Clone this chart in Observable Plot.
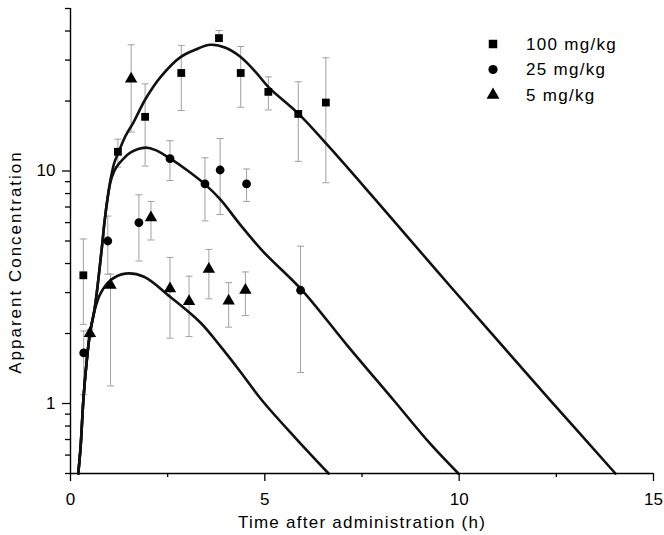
<!DOCTYPE html>
<html>
<head>
<meta charset="utf-8">
<script src="https://cdn.jsdelivr.net/npm/d3@7"></script>
<script src="https://cdn.jsdelivr.net/npm/@observablehq/plot@0.6"></script>
<style>
  body { margin: 0; background: #fff; }
  #wrap { position: relative; width: 664px; height: 535px; font-family: "Liberation Sans", Arial, Helvetica, sans-serif; }
  #legend { position: absolute; left: 0; top: 0; pointer-events: none; }
</style>
</head>
<body>
<div id="wrap"></div>
<script>
// ---------- data ----------
const seriesNames = ["100 mg/kg", "25 mg/kg", "5 mg/kg"];
const seriesSymbols = ["square", "circle", "triangle"];

// observed points (time h, value, error low, error high)
const t100  = [0.33, 1.22, 1.92, 2.85, 3.82, 4.38, 5.09, 5.86, 6.57];
const v100  = [3.56, 12.1, 17.1, 26.4, 37.3, 26.4, 21.9, 17.6, 19.7];
const lo100 = [2.19, 10.4, 10.5, 18.2, 36.0, 18.8, 18.3, 11.0, 8.9];
const hi100 = [5.1, 13.7, 23.7, 34.7, 40.2, 34.3, 25.4, 24.2, 30.7];

const t25  = [0.34, 0.96, 1.76, 2.56, 3.46, 3.85, 4.53, 5.92];
const v25  = [1.65, 5.0, 6.0, 11.3, 8.8, 10.1, 8.8, 3.07];
const lo25 = [1.09, 3.6, 4.1, 9.1, 6.1, 6.5, 7.4, 1.36];
const hi25 = [2.05, 6.4, 7.9, 13.5, 11.4, 13.8, 10.2, 4.75];

const t5  = [0.5, 1.03, 1.56, 2.07, 2.56, 3.05, 3.56, 4.07, 4.5];
const v5  = [2.0, 3.23, 24.9, 6.3, 3.12, 2.75, 3.78, 2.76, 3.07];
const lo5 = [1.92, 1.19, 14.7, 5.05, 1.91, 1.94, 2.82, 2.13, 2.39];
const hi5 = [2.08, 3.6, 34.9, 7.4, 4.25, 3.53, 4.6, 3.31, 3.68];

// fitted curves
const c100T = [0.2, 0.26, 0.33, 0.41, 0.5, 0.62, 0.8, 0.875, 0.952, 1.03, 1.08, 1.13, 1.24, 1.41, 1.62, 1.93, 2.32, 2.83, 3.22, 3.6, 3.99, 4.37, 4.76, 5.1, 5.87, 6.69, 7.8, 9.86, 12.35, 14.02];
const c100V = [0.5, 0.65, 1.03, 1.48, 2.0, 2.55, 4.57, 6.04, 7.6, 9.19, 10.1, 10.9, 12.1, 14.1, 16.2, 20.4, 25.4, 30.9, 33.3, 34.9, 33.9, 31.0, 26.7, 22.9, 17.6, 12.5, 7.68, 3.07, 1.03, 0.5];

const c25T = [0.2, 0.26, 0.33, 0.41, 0.5, 0.62, 0.8, 0.875, 0.952, 1.03, 1.11, 1.2, 1.34, 1.54, 1.93, 2.19, 2.57, 3.01, 3.47, 3.86, 4.37, 4.97, 5.96, 7.13, 8.32, 9.26, 9.98];
const c25V = [0.5, 0.65, 1.03, 1.48, 2.0, 2.55, 4.57, 6.04, 7.6, 9.0, 9.85, 10.5, 11.2, 12.0, 12.6, 12.3, 11.3, 10.05, 8.74, 7.53, 5.87, 4.48, 3.07, 1.77, 1.03, 0.67, 0.5];

const c5T = [0.2, 0.26, 0.33, 0.41, 0.5, 0.62, 0.77, 1.03, 1.41, 1.89, 2.57, 3.34, 3.86, 4.37, 4.93, 5.79, 6.64];
const c5V = [0.5, 0.65, 1.03, 1.48, 2.0, 2.51, 2.97, 3.39, 3.62, 3.51, 2.87, 2.23, 1.76, 1.37, 1.03, 0.71, 0.5];

// axis ticks
const xMajor = [0, 5, 10, 15];
const xMinor = [2.5, 7.5, 12.5];
const yMajor = [1, 10];
const yMinor = [0.5, 0.6, 0.7, 0.8, 0.9, 2, 3, 4, 5, 6, 7, 8, 9, 20, 30, 40, 50];
const xLabel = "Time after administration (h)";
const yLabel = "Apparent Concentration";

// ---------- tables ----------
function pts(name, t, v, lo, hi) {
  return t.map((d, i) => ({series: name, t: d, v: v[i], lo: lo[i], hi: hi[i]}));
}
const p100 = pts(seriesNames[0], t100, v100, lo100, hi100);
const p25 = pts(seriesNames[1], t25, v25, lo25, hi25);
const p5 = pts(seriesNames[2], t5, v5, lo5, hi5);
const allPts = [...p100, ...p25, ...p5];

function crv(name, t, v) { return t.map((d, i) => ({series: name, t: d, v: v[i]})); }
const curves = [...crv(seriesNames[0], c100T, c100V), ...crv(seriesNames[1], c25T, c25V), ...crv(seriesNames[2], c5T, c5V)];

const capSymbol = { draw(ctx) { ctx.moveTo(-3.5, 0); ctx.lineTo(3.5, 0); } };
const errColor = "#a0a0a0";
const font = '"Liberation Sans", Arial, Helvetica, sans-serif';

const chart = Plot.plot({
  width: 664,
  height: 535,
  marginLeft: 70,
  marginRight: 11,
  marginTop: 8,
  marginBottom: 62,
  style: { fontFamily: font, fontSize: "17px", color: "#000", background: "#fff" },
  x: { domain: [0, 15] },
  y: { type: "log", domain: [0.5, 50] },
  marks: [
    Plot.ruleX(allPts, { x: "t", y1: "lo", y2: "hi", stroke: errColor, strokeWidth: 1 }),
    Plot.dot(allPts, { x: "t", y: "lo", symbol: capSymbol, stroke: errColor, fill: "none", strokeWidth: 1 }),
    Plot.dot(allPts, { x: "t", y: "hi", symbol: capSymbol, stroke: errColor, fill: "none", strokeWidth: 1 }),
    Plot.line(curves, { x: "t", y: "v", z: "series", curve: "catmull-rom", stroke: "#111", strokeWidth: 2.6, strokeLinejoin: "round" }),
    Plot.dot(p100, { x: "t", y: "v", symbol: seriesSymbols[0], r: 4.4, fill: "#000", stroke: "none" }),
    Plot.dot(p25, { x: "t", y: "v", symbol: seriesSymbols[1], r: 4.4, fill: "#000", stroke: "none" }),
    Plot.dot(p5, { x: "t", y: "v", symbol: seriesSymbols[2], r: 4.6, fill: "#000", stroke: "none" }),
    Plot.axisX(xMajor, { tickSize: 8, tickPadding: 11, tickFormat: d => String(d), label: null, strokeWidth: 1.3 }),
    Plot.axisX(xMinor, { tickSize: 4, tickFormat: () => "", label: null, strokeWidth: 1.3 }),
    Plot.axisY(yMajor, { tickSize: 8, tickPadding: 7, tickFormat: d => String(d), label: null, strokeWidth: 1.3 }),
    Plot.axisY(yMinor, { tickSize: 5, tickFormat: () => "", label: null, strokeWidth: 1.3 }),
    Plot.ruleX([0], { stroke: "#000", strokeWidth: 1.4 }),
    Plot.ruleY([0.5], { stroke: "#000", strokeWidth: 1.4 }),
    Plot.text([xLabel], { text: d => d, frameAnchor: "bottom", textAnchor: "middle", lineAnchor: "middle", dy: 49, fontSize: 17, fill: "#000" }),
    Plot.text([yLabel], { text: d => d, frameAnchor: "left", textAnchor: "middle", lineAnchor: "middle", rotate: -90, dx: -55, dy: 21, fontSize: 17, fill: "#000" })
  ]
});

const svg = d3.select(chart);
svg.selectAll("text").each(function () {
  const s = d3.select(this);
  const txt = s.text();
  if (txt === xLabel) s.attr("letter-spacing", "1.25px");
  if (txt === yLabel) s.attr("letter-spacing", "2px");
});

const wrap = document.getElementById("wrap");
wrap.appendChild(chart);

// ---------- legend (overlay) ----------
const legendSymbols = [d3.symbolSquare, d3.symbolCircle, d3.symbolTriangle];
const legendSizes = [72, 66, 72];
const leg = d3.select(wrap).append("svg")
  .attr("id", "legend").attr("width", 664).attr("height", 535);
const rows = leg.selectAll("g").data(seriesNames).join("g")
  .attr("transform", (d, i) => `translate(493,${44 + i * 25.5})`);
rows.append("path")
  .attr("d", (d, i) => d3.symbol().type(legendSymbols[i]).size(legendSizes[i])())
  .attr("fill", "#000");
rows.append("text")
  .attr("x", 33).attr("dy", "0.35em")
  .attr("font-family", font).attr("font-size", 17).attr("letter-spacing", "1.3px")
  .attr("fill", "#000")
  .text(d => d);
</script>
</body>
</html>
